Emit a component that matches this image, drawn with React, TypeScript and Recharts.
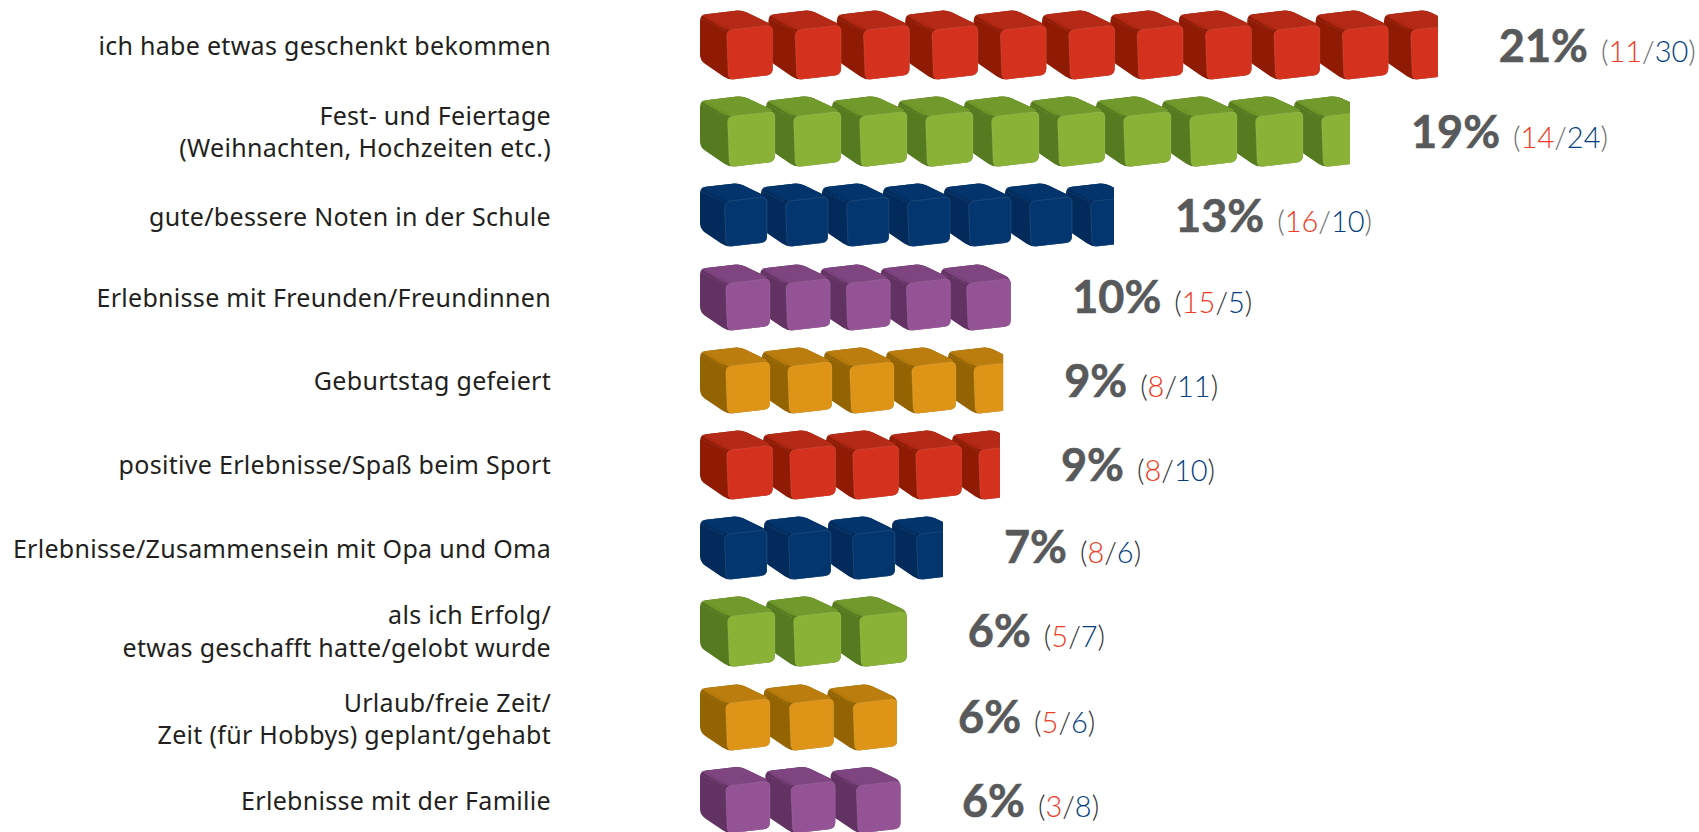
import React from "react";
import { BarChart, Bar, XAxis, YAxis, LabelList } from "recharts";

const categories = [
  "ich habe etwas geschenkt bekommen",
  "Fest- und Feiertage\n(Weihnachten, Hochzeiten etc.)",
  "gute/bessere Noten in der Schule",
  "Erlebnisse mit Freunden/Freundinnen",
  "Geburtstag gefeiert",
  "positive Erlebnisse/Spaß beim Sport",
  "Erlebnisse/Zusammensein mit Opa und Oma",
  "als ich Erfolg/\netwas geschafft hatte/gelobt wurde",
  "Urlaub/freie Zeit/\nZeit (für Hobbys) geplant/gehabt",
  "Erlebnisse mit der Familie",
];
const percent = [21, 19, 13, 10, 9, 9, 7, 6, 6, 6];
const girls = [11, 14, 16, 15, 8, 8, 8, 5, 5, 3];
const boys = [30, 24, 10, 5, 11, 10, 6, 7, 6, 8];
// length of each pictogram bar, in axis units
const barLength = [21.08, 18.57, 11.83, 8.89, 8.66, 8.57, 6.94, 5.91, 5.63, 5.74];
const cubeCount = [11, 10, 7, 5, 5, 5, 4, 3, 3, 3];

const data = categories.map((category, i) => ({
  category,
  length: barLength[i],
  percent: percent[i],
  girls: girls[i],
  boys: boys[i],
  cubes: cubeCount[i],
}));

// Looks: colours of the three cube faces and cube size per row.
const RED = { front: "#d4321e", top: "#b52a17", side: "#901b04" };
const GREEN = { front: "#89b236", top: "#72992c", side: "#567a1f" };
const BLUE = { front: "#03366f", top: "#03356c", side: "#022b5c" };
const PURPLE = { front: "#945395", top: "#7e4580", side: "#623262" };
const ORANGE = { front: "#de9416", top: "#bb7d0e", side: "#946403" };
const GREY_P = "#6d6e70";
const DARK_P = "#333335";
const rowLook = [
  { c: RED, w: 72.7, h: 70, pitch: 68.4, dy: 0, textDy: 1.7, tickDy: 1.5, paren: GREY_P },
  { c: GREEN, w: 75, h: 71.3, pitch: 66, dy: 2.4, textDy: 3.7, tickDy: 4, paren: GREY_P },
  { c: BLUE, w: 67, h: 64, pitch: 61, dy: 1.8, textDy: 3.5, tickDy: 4.8, paren: GREY_P },
  { c: PURPLE, w: 70, h: 67, pitch: 60.2, dy: 0.2, textDy: 0.4, tickDy: 1.7, paren: DARK_P },
  { c: ORANGE, w: 70, h: 67, pitch: 62, dy: -0.9, textDy: 0.3, tickDy: 1, paren: DARK_P },
  { c: RED, w: 72.7, h: 70, pitch: 63, dy: -0.5, textDy: 0.2, tickDy: 0.5, paren: DARK_P },
  { c: BLUE, w: 67, h: 64, pitch: 64, dy: -1.6, textDy: -1.6, tickDy: 0, paren: DARK_P },
  { c: GREEN, w: 75, h: 71.3, pitch: 66, dy: -2.2, textDy: -1.7, tickDy: -1.2, paren: DARK_P },
  { c: ORANGE, w: 70, h: 67, pitch: 63.7, dy: -0.3, textDy: 0.2, tickDy: 2, paren: DARK_P },
  { c: PURPLE, w: 70, h: 67, pitch: 65.3, dy: -1.9, textDy: -0.2, tickDy: 0, paren: DARK_P },
];

const FONT = "Lato, 'Open Sans', sans-serif";
const LABEL_FONT = "'Noto Sans', Lato, sans-serif";

type P = [number, number];
function roundedPoly(pts: P[], r: number) {
  const n = pts.length;
  let d = "";
  for (let i = 0; i < n; i++) {
    const p = pts[i];
    const a = pts[(i - 1 + n) % n];
    const b = pts[(i + 1) % n];
    const la = Math.hypot(a[0] - p[0], a[1] - p[1]);
    const lb = Math.hypot(b[0] - p[0], b[1] - p[1]);
    const ra = Math.min(r, la / 2);
    const rb = Math.min(r, lb / 2);
    const s: P = [p[0] + ((a[0] - p[0]) * ra) / la, p[1] + ((a[1] - p[1]) * ra) / la];
    const e: P = [p[0] + ((b[0] - p[0]) * rb) / lb, p[1] + ((b[1] - p[1]) * rb) / lb];
    d += `${i === 0 ? "M" : "L"}${s[0].toFixed(2)},${s[1].toFixed(2)}Q${p[0].toFixed(2)},${p[1].toFixed(2)} ${e[0].toFixed(2)},${e[1].toFixed(2)}`;
  }
  return d + "Z";
}

function Cube({ x, y, w, h, c }: any) {
  const pt = (u: number, v: number): P => [x + u * w, y + v * h];
  const outer = [pt(0, 0.07), pt(0.57, 0), pt(1, 0.215), pt(1, 0.925), pt(0.39, 1), pt(0, 0.72)];
  const top = [pt(0, 0.07), pt(0.57, 0), pt(1, 0.215), pt(0.365, 0.29)];
  const front = [pt(0.365, 0.29), pt(1, 0.215), pt(1, 0.925), pt(0.39, 1)];
  const a = pt(0.005, 0.12);
  const b = pt(0.36, 0.3);
  const a2 = pt(0.03, 0.06);
  const b2 = pt(0.39, 0.255);
  return (
    <g>
      <path d={roundedPoly(outer, 6)} fill={c.side} />
      <path d={roundedPoly(top, 6)} fill={c.top} />
      <line x1={(a[0] + a2[0]) / 2} y1={(a[1] + a2[1]) / 2} x2={(b[0] + b2[0]) / 2} y2={(b[1] + b2[1]) / 2}
        stroke={c.side} strokeOpacity={0.3} strokeWidth={5} strokeDasharray="1 1" />
      <line x1={a[0]} y1={a[1]} x2={b[0]} y2={b[1]} stroke="#fff" strokeOpacity={0.2} strokeWidth={0.7} strokeDasharray="1.5 1.5" />
      <path d={roundedPoly(front, 6)} fill={c.front} stroke="#fff" strokeOpacity={0.14} strokeWidth={0.7} />
    </g>
  );
}

function CubeBar(props: any) {
  const { x, y, width, height, index, payload } = props;
  const look = rowLook[index];
  const cy = y + height / 2 + look.dy;
  const top = cy - look.h / 2;
  const cubes = [];
  // earlier cubes sit in front of later ones, so draw from the far end back
  for (let i = payload.cubes - 1; i >= 0; i--) {
    cubes.push(<Cube key={i} x={x + i * look.pitch} y={top} w={look.w} h={look.h} c={look.c} />);
  }
  const id = `cube-clip-${index}`;
  return (
    <g>
      <clipPath id={id}>
        <rect x={x - 2} y={top - 3} width={width + 2} height={look.h + 6} />
      </clipPath>
      <g clipPath={`url(#${id})`}>{cubes}</g>
    </g>
  );
}

function ValueLabel(props: any) {
  const { x, y, width, height, index } = props;
  const d = data[index];
  const look = rowLook[index];
  const tx = x + width + 61;
  const ty = y + height / 2 + 15 + look.textDy;
  return (
    <text x={tx} y={ty} fontFamily={FONT}>
      <tspan fontSize={45} fontWeight={700} fill="#58595b" stroke="#58595b" strokeWidth={0.6}>{d.percent}%</tspan>
      <tspan dx={13} fontSize={29} fontWeight={300} fill={look.paren}>(</tspan>
      <tspan fontSize={29} fontWeight={300} fill="#ee3a22">{d.girls}</tspan>
      <tspan fontSize={29} fontWeight={300} fill={look.paren}>/</tspan>
      <tspan fontSize={29} fontWeight={300} fill="#063f7f">{d.boys}</tspan>
      <tspan fontSize={29} fontWeight={300} fill={look.paren}>)</tspan>
    </text>
  );
}

function CategoryTick(props: any) {
  const { x, y, payload, index } = props;
  const lines = String(payload.value).split("\n");
  const cy = y + rowLook[index].tickDy;
  const first = lines.length === 1 ? cy + 8 : cy + 8 - 16.15;
  return (
    <g>
      {lines.map((line, i) => (
        <text key={i} x={x} y={first + i * 32.3} textAnchor="end" fontFamily={LABEL_FONT} fontSize={25} letterSpacing={0.3} fontWeight={400} fill="#231f20">
          {line}
        </text>
      ))}
    </g>
  );
}

export default function App() {
  return (
    <div style={{ position: "absolute", left: 0, top: 0, width: 1699, height: 832, overflow: "hidden", background: "#fff" }}>
      <BarChart
        width={1699}
        height={850}
        data={data}
        layout="vertical"
        barCategoryGap={0}
        margin={{ top: 3, right: 0, bottom: 6, left: 0 }}
      >
        <XAxis type="number" hide domain={[0, 28.54]} />
        <YAxis
          type="category"
          dataKey="category"
          width={700}
          axisLine={false}
          tickLine={false}
          interval={0}
          tickMargin={0}
          tickSize={149}
          tick={<CategoryTick />}
        />
        <Bar dataKey="length" isAnimationActive={false} shape={<CubeBar />}>
          <LabelList dataKey="percent" content={<ValueLabel />} />
        </Bar>
      </BarChart>
    </div>
  );
}
